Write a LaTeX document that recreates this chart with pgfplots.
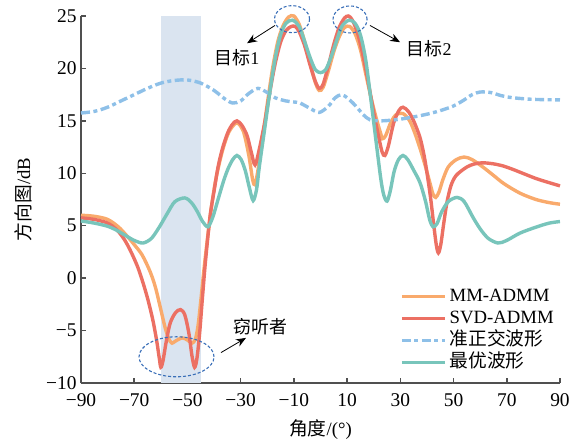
\documentclass[border=0pt]{standalone}
\usepackage{pgfplots}
\pgfplotsset{compat=1.18}
\usepackage{fontspec}
\setmainfont{Liberation Serif}
\newfontfamily\cjk{Noto Sans CJK SC}
\usetikzlibrary{arrows.meta}
\definecolor{cOrange}{HTML}{F9AA6C}
\definecolor{cRed}{HTML}{EC7063}
\definecolor{cTeal}{HTML}{78C5BB}
\definecolor{cBlue}{HTML}{8EC0E8}
\definecolor{cShade}{HTML}{DAE4F0}
\definecolor{cEll}{HTML}{3A6FB8}
\definecolor{cAxis}{HTML}{505050}
\newcommand{\fs}{\fontsize{18}{21}\selectfont}
\newcommand{\ft}{\fontsize{19.5}{22}\selectfont}
\newcommand{\fl}{\fontsize{18.8}{22}\selectfont}
\begin{document}
\begin{tikzpicture}
\useasboundingbox (-81bp,-65bp) rectangle (500bp,383bp);
\begin{axis}[
  at={(0,0)}, anchor=south west,
  scale only axis, width=479bp, height=367bp,
  xmin=-90, xmax=90, ymin=-10, ymax=25,
  enlargelimits=false, clip=false,
  axis lines=left,
  axis line style={-, line width=1.5bp, draw=cAxis},
  tick style={line width=1.5bp, draw=cAxis},
  major tick length=5bp, tick align=inside,
  xtick={-90,-70,-50,-30,-10,10,30,50,70,90},
  xticklabels={−90,−70,−50,−30,−10,10,30,50,70,90},
  ytick={-10,-5,0,5,10,15,20,25},
  yticklabels={−10,−5,0,5,10,15,20,25},
  tick label style={font=\ft, text=black},
  xticklabel style={yshift=-7bp},
  yticklabel style={xshift=-1bp},
  xlabel={{\cjk 角度}/(°)},
  ylabel={{\cjk 方向图}/dB},
  xlabel style={font=\fl, at={([yshift=-47bp]axis description cs:0.5,0)}, anchor=center},
  ylabel style={font=\fl, at={([xshift=-58bp]axis description cs:0,0.5)}, anchor=center},
  legend cell align=left,
  legend style={font=\fl, draw=none, fill=none, inner sep=0pt,
    at={(rel axis cs:0.666,0.267)}, anchor=north west,
    row sep=0pt,
    nodes={text height=13bp, text depth=3bp, inner sep=3bp},
    /tikz/every even column/.append style={column sep=0bp}},
  legend image code/.code={\draw[#1] (0bp,0bp) -- (43bp,0bp);},
]
\addplot[fill=cShade, draw=none, forget plot] coordinates {(-60,-10) (-45,-10) (-45,25) (-60,25)} -- cycle;

\addplot[cOrange, line width=3.4bp, smooth, tension=0.5] coordinates {
(-90,6.0) (-85,5.9) (-80,5.6) (-76,4.9) (-73,4.1) (-70,3.2) (-67,2.2) (-64,0.6) (-62,-0.9) (-60,-3.0) (-58.4,-4.7) (-57,-5.8) (-55.8,-6.2) (-54.5,-6.0) (-52,-5.7) (-50,-5.9) (-48.3,-6.2) (-47,-5.8) (-46,-4.5) (-45,-2.2) (-43.5,1.5) (-41.5,5.8) (-39.5,9.2) (-37,12.0) (-34.5,13.9) (-31.5,14.8) (-29,14.0) (-27,11.8) (-25.5,9.4) (-24.6,8.9) (-23.5,10.3) (-22,12.8) (-20,16.6) (-18,20.0) (-16,22.6) (-14,24.1) (-12,24.9) (-10,25.0) (-8,24.2) (-6,22.6) (-4,20.6) (-2,18.7) (-0.5,17.9) (1,18.2) (3,19.8) (5,21.6) (7,23.0) (9,23.9) (11,24.0) (13,23.3) (15,21.8) (17,19.5) (19,17.2) (21,15.2) (22.5,13.9) (23.3,13.3) (24.5,13.6) (26.5,14.9) (28.5,15.6) (31,15.7) (33.5,15.0) (35.5,13.8) (37.5,12.3) (39.5,10.6) (41.2,9.0) (42.3,8.0) (43.3,7.7) (44.5,8.2) (46,9.4) (48,10.6) (51,11.3) (54,11.55) (57,11.3) (61,10.6) (65,9.8) (69,9.0) (75,8.1) (81,7.5) (86,7.2) (90,7.05)};
\addlegendentry{MM-ADMM}

\addplot[cRed, line width=3.4bp, smooth, tension=0.5] coordinates {
(-90,5.75) (-85,5.6) (-80,5.25) (-76.5,4.6) (-73.5,3.6) (-71,2.4) (-68.6,1.0) (-66.5,-0.6) (-64.8,-2.1) (-63,-4.0) (-61.6,-5.9) (-60.6,-7.6) (-60,-8.5) (-59.2,-7.9) (-58,-6.1) (-56.5,-4.3) (-54.5,-3.3) (-52.6,-3.0) (-51,-3.5) (-49.5,-5.2) (-48.3,-7.4) (-47.3,-8.5) (-46.4,-7.6) (-45.4,-5.2) (-44.5,-2.3) (-43.4,1.1) (-42.3,4.0) (-41.3,6.3) (-40,8.3) (-38.5,10.6) (-36.8,12.4) (-34.8,13.9) (-33,14.7) (-31.4,15.0) (-29.6,14.6) (-27.6,13.6) (-26,12.0) (-24.6,10.8) (-23,12.3) (-21,14.8) (-19,17.8) (-17,20.5) (-15,22.5) (-13,23.6) (-11,24.0) (-9.5,24.0) (-8,23.5) (-6,22.2) (-4,20.4) (-2,18.8) (-0.5,18.1) (1,18.5) (3,20.3) (5,22.3) (7,23.9) (9,24.8) (10.5,25.0) (12,24.6) (14,23.3) (16,21.2) (18,18.6) (20,15.8) (22,13.3) (23.2,12.0) (24.2,11.7) (25.5,12.6) (27.5,14.8) (29.5,16.0) (31,16.3) (33,15.9) (35,15.0) (37.4,13.4) (39,11.6) (40.4,9.4) (41.5,7.4) (42.5,5.2) (43.5,3.2) (44.3,2.4) (45.2,3.2) (46.3,5.2) (47.5,7.2) (49,8.8) (51,9.8) (55,10.6) (58,10.9) (61,11.0) (65,10.9) (68.6,10.7) (72,10.4) (75,10.1) (81,9.5) (86,9.1) (90,8.8)};
\addlegendentry{SVD-ADMM}

\addplot[cBlue, line width=3.4bp, smooth, tension=0.5, dash pattern=on 9bp off 3.5bp on 4bp off 3.5bp] coordinates {
(-90,15.75) (-85,15.9) (-80,16.3) (-75,16.9) (-70,17.5) (-65,18.1) (-60,18.6) (-55,18.85) (-50,18.9) (-45,18.6) (-40,17.9) (-36,17.1) (-33,16.7) (-30,16.9) (-27,17.6) (-23.5,18.1) (-20,17.7) (-17,17.2) (-13,16.9) (-10,16.8) (-7.7,16.7) (-4,16.2) (-0.5,15.8) (3,16.4) (5.5,17.2) (8,17.5) (10.5,17.1) (13.7,16.3) (16,15.6) (18.6,15.1) (22,15.0) (26,15.05) (31,15.2) (38.5,15.55) (44,15.9) (49.8,16.4) (54,17.0) (57,17.5) (60,17.75) (64,17.7) (68,17.4) (72.4,17.2) (80,17.05) (90,17.0)};
\addlegendentry{{\cjk 准正交波形}}

\addplot[cTeal, line width=3.4bp, smooth, tension=0.5] coordinates {
(-90,5.45) (-85,5.25) (-80,4.95) (-76.5,4.55) (-73.5,4.1) (-70,3.6) (-66.7,3.35) (-63.5,3.8) (-60.5,4.9) (-57.5,6.2) (-54.7,7.3) (-51,7.65) (-48.5,7.2) (-46.4,6.4) (-44.3,5.4) (-42.3,4.9) (-40.5,5.8) (-38.5,7.5) (-36.5,9.2) (-34.8,10.4) (-33,11.3) (-31.4,11.7) (-29.8,11.3) (-28.2,10.2) (-26.7,8.6) (-25.3,7.4) (-24,8.5) (-23,10.6) (-21,14.2) (-19,17.8) (-17,21.0) (-15,23.2) (-13,24.3) (-10.5,24.6) (-8,24.0) (-6,22.6) (-4,21.1) (-2,19.9) (0,19.6) (2,19.9) (4,21.1) (6,22.6) (8,24.0) (10.7,24.6) (13,24.3) (15,23.2) (17,20.8) (19,16.9) (21,12.8) (22.7,9.4) (23.8,7.9) (25,7.35) (26.2,8.3) (27.7,10.2) (29.3,11.3) (31,11.7) (32.8,11.3) (35,10.3) (37.4,9.1) (39.5,7.3) (41,5.6) (42.3,4.9) (43.8,5.2) (45.5,6.3) (48,7.3) (51.3,7.7) (54,7.3) (57.3,5.8) (60,4.7) (63,3.8) (66.7,3.35) (70,3.6) (75,4.3) (81.4,4.9) (86,5.25) (90,5.4)};
\addlegendentry{{\cjk 最优波形}}

% annotations
\draw[cEll, line width=1.1bp, dash pattern=on 3bp off 2bp] (axis cs:-10.7,24.7) ellipse [x radius=17.5bp, y radius=13.5bp];
\draw[cEll, line width=1.1bp, dash pattern=on 3bp off 2bp] (axis cs:11.1,24.67) ellipse [x radius=17bp, y radius=13.5bp];
\draw[cEll, line width=1.1bp, dash pattern=on 3bp off 2bp] (axis cs:-54.1,-7.5) ellipse [x radius=37.5bp, y radius=20bp];
\draw[-{Stealth[length=10bp,width=8bp]}, line width=0.8bp] (axis cs:-17.1,24.1) -- (axis cs:-27.6,22.4);
\draw[-{Stealth[length=10bp,width=8bp]}, line width=0.8bp] (axis cs:18.6,24.1) -- (axis cs:29.9,22.5);
\draw[-{Stealth[length=10bp,width=8bp]}, line width=0.8bp] (axis cs:-37.4,-7.1) -- (axis cs:-28.0,-5.7);
\node[font=\fs] at (axis cs:-31.4,21.0) {{\cjk 目标}1};
\node[font=\fs] at (axis cs:40.8,21.85) {{\cjk 目标}2};
\node[font=\fs] at (axis cs:-22.7,-4.66) {{\cjk 窃听者}};
\end{axis}
\end{tikzpicture}
\end{document}
